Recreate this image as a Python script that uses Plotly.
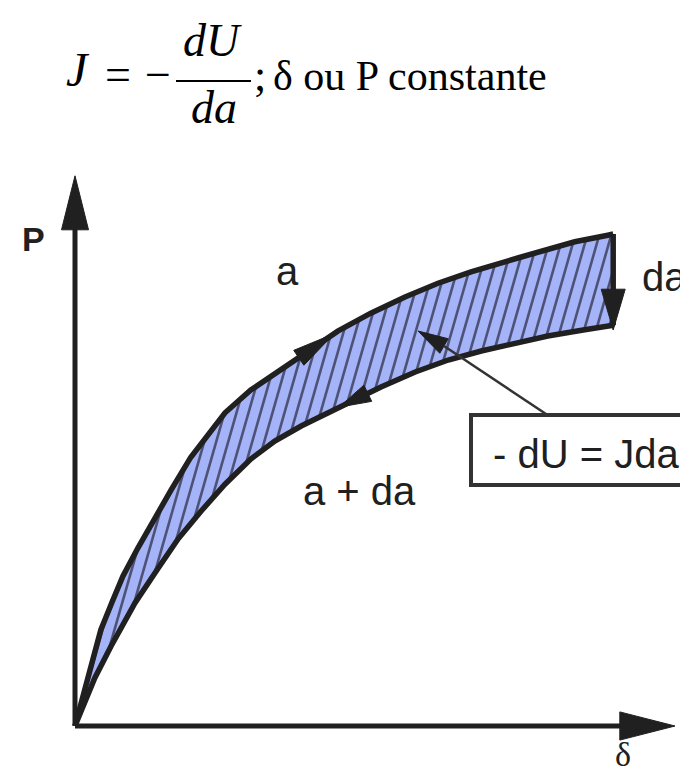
import numpy as np
import plotly.graph_objects as go

# ---------------- data (δ, P in arbitrary units) ----------------
upper_delta = [0.0, 0.15, 0.28, 0.43, 0.62, 0.80, 1.05, 1.33, 1.60, 1.93, 2.27, 2.50,
               2.93, 3.50, 3.97, 4.38, 4.93, 5.50, 6.05, 6.60, 7.38, 7.88, 8.33, 8.88, 8.97]
upper_P = [0.0, 0.57, 1.10, 1.60, 2.07, 2.50, 2.97, 3.48, 3.93, 4.48, 4.93, 5.22,
           5.60, 5.98, 6.30, 6.58, 6.88, 7.15, 7.38, 7.57, 7.80, 7.95, 8.07, 8.18, 8.20]

lower_delta = [0.0, 0.10, 0.33, 0.60, 1.00, 1.38, 1.72, 2.10, 2.50, 2.93, 3.33, 3.77,
               4.33, 4.72, 5.10, 5.67, 6.22, 6.77, 7.33, 7.88, 8.47, 8.97]
lower_P = [0.0, 0.25, 0.80, 1.33, 2.05, 2.62, 3.12, 3.58, 4.03, 4.45, 4.75, 5.00,
           5.28, 5.47, 5.65, 5.90, 6.10, 6.25, 6.38, 6.50, 6.60, 6.68]

axis_delta_max = 10.0
axis_P_max = 9.17

label_P = "P"
label_delta = "δ"
label_a = "a"
label_a_da = "a + da"
label_da = "da"
label_box = "- dU = Jda"

# ---------------- geometry helpers ----------------
W, H = 688, 773
OX, OY, S = 67, 718, 60.0


def X(px):
    return (px - OX) / S


def Y(py):
    return (OY - py) / S


INK = "#202020"
BLUE = "#a5b4f8"
HATCH = "rgba(55,58,85,0.8)"
SANS = "Liberation Sans, Arial, sans-serif"
SERIF = "Liberation Serif, Times New Roman, serif"


def head(tip, base, hw):
    tx, ty = tip
    bx, by = base
    vx, vy = tx - bx, ty - by
    L = np.hypot(vx, vy)
    nx, ny = -vy / L * hw, vx / L * hw
    return [bx + nx, tx, bx - nx, bx + nx], [by + ny, ty, by - ny, by + ny]


def on_upper(d):
    return (d, float(np.interp(d, upper_delta, upper_P)))


def on_lower(d):
    return (d, float(np.interp(d, lower_delta, lower_P)))


fig = go.Figure()

# filled band between the two curves
poly_x = upper_delta + lower_delta[::-1]
poly_y = upper_P + lower_P[::-1]
fig.add_trace(go.Scatter(x=poly_x, y=poly_y, mode="lines", fill="toself",
                         fillcolor=BLUE, line=dict(width=0, color=BLUE),
                         hoverinfo="skip"))

# hatching clipped to the band
m = 3.5
d = np.linspace(0, upper_delta[-1], 5000)
lo = np.interp(d, lower_delta, lower_P)
hi = np.interp(d, upper_delta, upper_P)
hx, hy = [], []
for c in np.arange(-3.0, 9.2, 0.2):
    p = m * (d - c)
    idx = np.nonzero((p >= lo) & (p <= hi))[0]
    if len(idx) < 2:
        continue
    hx += [d[idx[0]], d[idx[-1]], None]
    hy += [p[idx[0]], p[idx[-1]], None]
fig.add_trace(go.Scatter(x=hx, y=hy, mode="lines",
                         line=dict(width=2.6, color=HATCH), hoverinfo="skip"))

# outlines
for xs, ys in [(upper_delta, upper_P), (lower_delta, lower_P),
               ([upper_delta[-1], lower_delta[-1]], [upper_P[-1], lower_P[-1]])]:
    fig.add_trace(go.Scatter(x=xs, y=ys, mode="lines",
                             line=dict(width=5.5, color=INK), hoverinfo="skip"))

# axes
fig.add_trace(go.Scatter(x=[0, 0], y=[0, axis_P_max - 0.85], mode="lines",
                         line=dict(width=5, color=INK), hoverinfo="skip"))
fig.add_trace(go.Scatter(x=[0, axis_delta_max - 0.85], y=[0, 0], mode="lines",
                         line=dict(width=5, color=INK), hoverinfo="skip"))

heads = [
    head((0, axis_P_max), (0, axis_P_max - 0.90), 0.225),
    head((axis_delta_max, 0), (axis_delta_max - 0.92, 0), 0.235),
    head(on_upper(4.32), on_upper(3.73), 0.15),
    head(on_lower(4.40), on_lower(4.88), 0.15),
    head((upper_delta[-1], 6.60), (upper_delta[-1], 7.28), 0.2),
    head((X(410), Y(323)), (X(436), Y(338)), 0.14),
]
for hxs, hys in heads:
    fig.add_trace(go.Scatter(x=hxs, y=hys, mode="lines", fill="toself",
                             fillcolor=INK, line=dict(width=1, color=INK),
                             hoverinfo="skip"))

# leader line from the box
fig.add_trace(go.Scatter(x=[X(538), X(436)], y=[Y(406), Y(338)], mode="lines",
                         line=dict(width=2.5, color="#333333"), hoverinfo="skip"))

shapes = [
    dict(type="rect", xref="x", yref="y", x0=X(463), x1=X(686), y0=Y(477), y1=Y(407),
         line=dict(width=4, color="#333333"), fillcolor="white", layer="above"),
    dict(type="line", xref="x", yref="y", x0=X(168), x1=X(243), y0=Y(73), y1=Y(73),
         line=dict(width=2, color="black")),
]

ann = []


def txt(s, px, py, size, family, color=INK, xanchor="center"):
    ann.append(dict(text=s, x=X(px), y=Y(py), xref="x", yref="y", showarrow=False,
                    xanchor=xanchor, yanchor="middle",
                    font=dict(size=size, family=family, color=color)))


# title formula
txt("<i>J</i>", 70, 61, 48, SERIF, "black")
txt("=", 110, 66, 46, SERIF, "black")
txt("−", 150, 66, 46, SERIF, "black")
txt("<i>dU</i>", 204, 32, 46, SERIF, "black")
txt("<i>da</i>", 206, 99, 46, SERIF, "black")
txt(";", 252, 67, 44, SERIF, "black")
txt("δ ou P constante", 263, 68, 42, SERIF, "black", xanchor="left")

# diagram labels
txt("<b>" + label_P + "</b>", 25, 231, 34, SANS)
txt(label_a, 279, 263, 40, SANS)
txt(label_da, 656, 269, 40, SANS)
txt(label_a_da, 351, 483, 40, SANS)
txt(label_box, 578, 446, 40, SANS)
txt(label_delta, 615, 746, 34, SERIF)

fig.update_layout(
    width=W, height=H, margin=dict(l=0, r=0, t=0, b=0),
    paper_bgcolor="white", plot_bgcolor="white", showlegend=False,
    xaxis=dict(range=[X(0), X(W)], visible=False, fixedrange=True),
    yaxis=dict(range=[Y(H), Y(0)], visible=False, fixedrange=True),
    shapes=shapes, annotations=ann,
)

fig.write_html("out.html", config={"displayModeBar": False})
